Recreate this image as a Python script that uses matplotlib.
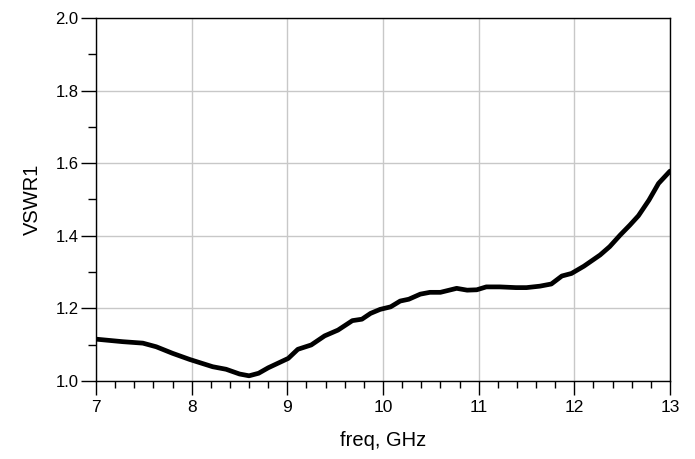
import matplotlib.pyplot as plt
from matplotlib.ticker import MultipleLocator

plt.rcParams['font.family'] = ['Liberation Sans', 'DejaVu Sans']

freq = [7.0, 7.28, 7.49, 7.63, 7.80, 7.98, 8.22, 8.36, 8.50, 8.60, 8.70, 8.80,
        9.01, 9.11, 9.25, 9.39, 9.53, 9.68, 9.78, 9.87, 9.97, 10.08, 10.18,
        10.27, 10.39, 10.49, 10.60, 10.77, 10.88, 10.98, 11.08, 11.22, 11.39,
        11.50, 11.64, 11.76, 11.87, 11.97, 12.10, 12.27, 12.37, 12.48, 12.58,
        12.67, 12.78, 12.88, 13.0]
vswr = [1.115, 1.108, 1.104, 1.094, 1.076, 1.059, 1.039, 1.032, 1.019, 1.014,
        1.021, 1.036, 1.062, 1.087, 1.099, 1.124, 1.140, 1.166, 1.170, 1.186,
        1.197, 1.204, 1.220, 1.225, 1.239, 1.244, 1.244, 1.255, 1.250, 1.251,
        1.259, 1.259, 1.257, 1.257, 1.261, 1.267, 1.289, 1.296, 1.316, 1.347,
        1.370, 1.402, 1.429, 1.455, 1.498, 1.544, 1.578]

fig = plt.figure(figsize=(6.95, 4.59), dpi=100)
ax = fig.add_axes([0.1381, 0.1702, 0.8259, 0.7906])

ax.plot(freq, vswr, color='black', linewidth=3.4, solid_capstyle='round')

ax.set_xlim(7, 13)
ax.set_ylim(1.0, 2.0)
ax.xaxis.set_major_locator(MultipleLocator(1))
ax.xaxis.set_minor_locator(MultipleLocator(0.2))
ax.yaxis.set_major_locator(MultipleLocator(0.2))
ax.yaxis.set_minor_locator(MultipleLocator(0.1))
ax.yaxis.set_major_formatter(plt.FormatStrFormatter('%.1f'))

ax.grid(True, which='major', color='#c8c8c8', linewidth=1)
ax.set_axisbelow(True)
for s in ax.spines.values():
    s.set_color('black')
    s.set_linewidth(1)

ax.tick_params(axis='x', which='major', direction='out', length=10, width=1,
               pad=4, labelsize=12.5)
ax.tick_params(axis='x', which='minor', direction='out', length=5, width=1)
ax.tick_params(axis='y', which='major', direction='out', length=11, width=1,
               pad=1.5, labelsize=12)
ax.tick_params(axis='y', which='minor', direction='out', length=5.5, width=1)

ax.set_xlabel('freq, GHz', fontsize=14.5, labelpad=11)
ax.set_ylabel('VSWR1', fontsize=14.5, labelpad=10)

fig.savefig('out.png', dpi=100)
